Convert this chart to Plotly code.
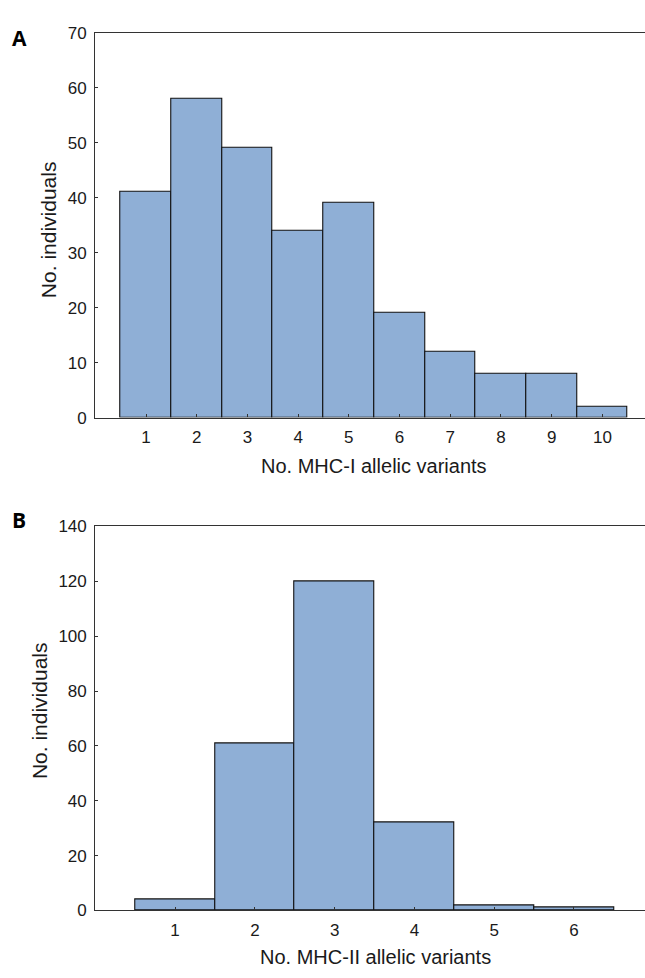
import plotly.graph_objects as go

# Data
mhc1_variants = [1, 2, 3, 4, 5, 6, 7, 8, 9, 10]
mhc1_counts = [41, 58, 49, 34, 39, 19, 12, 8, 8, 2]
mhc2_variants = [1, 2, 3, 4, 5, 6]
mhc2_counts = [4, 61, 120, 32, 2, 1]

BAR_COLOR = "#8FAFD6"
FONT = "Liberation Sans, Arial, sans-serif"
W, H = 645, 978
TXT = "#1a1a1a"

fig = go.Figure()
fig.add_trace(go.Bar(x=mhc1_variants, y=mhc1_counts, width=1,
                     marker=dict(color=BAR_COLOR, line=dict(color="#111", width=1.1)),
                     xaxis="x", yaxis="y", showlegend=False, hoverinfo="skip"))
fig.add_trace(go.Bar(x=mhc2_variants, y=mhc2_counts, width=1,
                     marker=dict(color=BAR_COLOR, line=dict(color="#111", width=1.1)),
                     xaxis="x2", yaxis="y2", showlegend=False, hoverinfo="skip"))

def py(px):
    return 1 - px / H

def px_(x):
    return x / W

x_dom = [95.3 / W, 1.0]
axis_x = dict(showline=True, linecolor="#333", linewidth=1.3, mirror=True,
              ticks="inside", ticklen=3, tickcolor="#333", showgrid=False,
              zeroline=False, ticklabelstandoff=4,
              tickfont=dict(family=FONT, size=17, color=TXT))
axis_y = dict(showline=True, linecolor="#333", linewidth=1.3, mirror=False,
              ticks="inside", ticklen=3, tickcolor="#333", showgrid=False,
              zeroline=False, ticklabelstandoff=4,
              tickfont=dict(family=FONT, size=17, color=TXT))
title_font = dict(family=FONT, size=20, color=TXT)
ytitle_font = dict(family=FONT, size=21, color=TXT)
panel_font = dict(family="Open Sans, sans-serif", size=21, color="black")

fig.update_layout(
    width=W, height=H,
    margin=dict(l=0, r=0, t=0, b=0),
    plot_bgcolor="white", paper_bgcolor="white",
    bargap=0,
    xaxis=dict(domain=x_dom, anchor="y", range=[0, 10.84], tickvals=mhc1_variants, **axis_x),
    yaxis=dict(domain=[py(416.7), py(24.3)], anchor="x", range=[0, 70], dtick=10, **axis_y),
    xaxis2=dict(domain=x_dom, anchor="y2", range=[0, 6.89], tickvals=mhc2_variants, **axis_x),
    yaxis2=dict(domain=[py(919.3), py(527.7)], anchor="x2", range=[0, 140], dtick=20, **axis_y),
    annotations=[
        dict(text="<b>A</b>", x=px_(10), y=py(30), xref="paper", yref="paper",
             xanchor="left", yanchor="middle", showarrow=False, font=panel_font),
        dict(text="<b>B</b>", x=px_(10), y=py(521), xref="paper", yref="paper",
             xanchor="left", yanchor="middle", showarrow=False, font=panel_font),
        dict(text="No. MHC-I allelic variants", x=px_(374), y=py(466), xref="paper", yref="paper",
             xanchor="center", yanchor="middle", showarrow=False, font=title_font),
        dict(text="No. MHC-II allelic variants", x=px_(375), y=py(967), xref="paper", yref="paper",
             xanchor="center", yanchor="middle", showarrow=False, font=title_font),
        dict(text="No. individuals", x=px_(48.5), y=py(225), xref="paper", yref="paper",
             xanchor="center", yanchor="middle", showarrow=False, textangle=-90, font=ytitle_font),
        dict(text="No. individuals", x=px_(39), y=py(716), xref="paper", yref="paper",
             xanchor="center", yanchor="middle", showarrow=False, textangle=-90, font=ytitle_font),
    ],
)

fig.write_html("out.html", config={"displayModeBar": False})
with open("out.html", "r", encoding="utf-8") as f:
    html = f.read()
html = html.replace("<head>", "<head><style>html,body{margin:0;padding:0;overflow:hidden;}</style>", 1)
with open("out.html", "w", encoding="utf-8") as f:
    f.write(html)
